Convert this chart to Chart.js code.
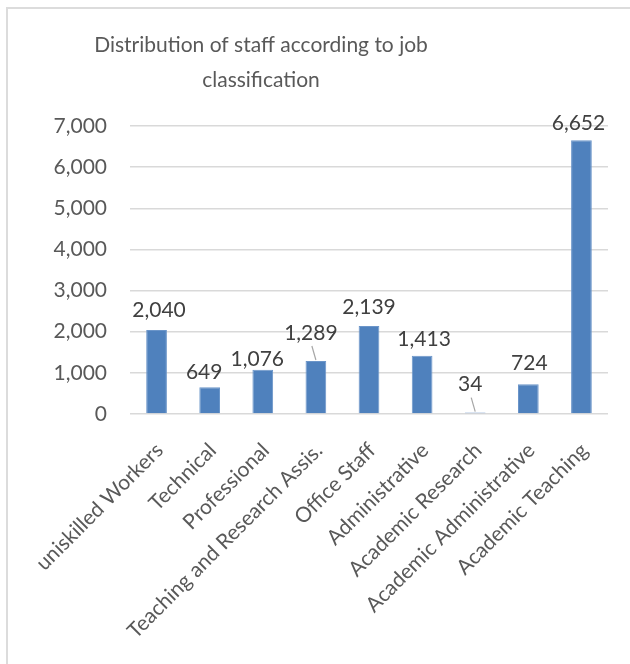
<!DOCTYPE html>
<html><head><meta charset="utf-8">
<script src="https://cdn.jsdelivr.net/npm/chart.js@4/dist/chart.umd.min.js"></script>
<style>
html,body{margin:0;padding:0;background:#fff;overflow:hidden;}
#wrap{position:relative;width:630px;height:664px;overflow:hidden;}
#frame{position:absolute;left:6px;top:7px;width:700px;height:700px;border:2px solid #dcdcdc;box-sizing:border-box;}
canvas{position:absolute;left:0;top:0;}
</style></head><body>
<div id="wrap"><div id="frame"></div><canvas id="c" width="630" height="664"></canvas></div>
<script>
const categories = ['uniskilled Workers','Technical','Professional','Teaching and Research Assis.','Office Staff','Administrative','Academic Research','Academic Administrative','Academic Teaching'];
const staffCounts = [2040, 649, 1076, 1289, 2139, 1413, 34, 724, 6652];
const yTickValues = [0, 1000, 2000, 3000, 4000, 5000, 6000, 7000];
const titleLines = ['Distribution of staff according to job', 'classification'];

const FONT = 'Lato, "Open Sans", sans-serif';
const fmt = v => v.toLocaleString('en-US');

const titlePlugin = {
  id: 'excelTitle',
  afterDraw(chart, args, opts) {
    const ctx = chart.ctx;
    ctx.save();
    ctx.font = opts.size + 'px ' + FONT;
    ctx.fillStyle = opts.color;
    ctx.textAlign = 'center';
    ctx.textBaseline = 'middle';
    opts.lines.forEach((t, i) => ctx.fillText(t, opts.x, opts.y + i * opts.lineHeight));
    ctx.restore();
  }
};

const labelPlugin = {
  id: 'barLabels',
  afterDatasetsDraw(chart, args, opts) {
    const ctx = chart.ctx;
    const meta = chart.getDatasetMeta(0);
    const data = chart.data.datasets[0].data;
    ctx.save();
    ctx.font = opts.size + 'px ' + FONT;
    ctx.fillStyle = opts.color;
    ctx.textAlign = 'center';
    ctx.textBaseline = 'middle';
    meta.data.forEach((bar, i) => {
      const n = opts.nudge[i] || [0, 18];
      const lx = bar.x + n[0], ly = bar.y - n[1];
      ctx.fillText(fmt(data[i]), lx, ly);
      if (opts.leaders.includes(i)) {
        ctx.strokeStyle = '#a6a6a6';
        ctx.lineWidth = 1.2;
        ctx.beginPath();
        ctx.moveTo(lx + 1, ly + 13);
        ctx.lineTo(bar.x, bar.y - 1);
        ctx.stroke();
      }
    });
    ctx.restore();
  }
};

new Chart(document.getElementById('c'), {
  type: 'bar',
  data: {
    labels: categories,
    datasets: [{
      data: staffCounts,
      backgroundColor: '#4f81bd',
      borderColor: '#6b95c9',
      borderWidth: 1,
      categoryPercentage: 1,
      barPercentage: 0.39
    }]
  },
  options: {
    responsive: false,
    animation: false,
    devicePixelRatio: 1,
    layout: { padding: { top: 126, right: 22, left: 0, bottom: 0 } },
    plugins: {
      legend: { display: false },
      tooltip: { enabled: false },
      title: { display: false },
      excelTitle: { lines: titleLines, x: 261, y: 45, lineHeight: 35, size: 21, color: '#595959' },
      barLabels: {
        size: 21, color: '#404040', leaders: [3, 6],
        nudge: [[2.5, 19.5], [-5.5, 15], [-5.5, 10], [-5, 28], [0, 18.5], [2, 16.5], [-5, 28], [1, 21], [-3, 17]]
      }
    },
    scales: {
      x: {
        grid: { display: false },
        border: { display: false },
        ticks: { autoSkip: false, minRotation: 45, maxRotation: 45, font: { family: FONT, size: 21 }, color: '#595959', padding: 16, labelOffset: 3 },
        afterFit(s) { s.height = 250; }
      },
      y: {
        min: 0, max: 7000,
        afterBuildTicks(s) { s.ticks = yTickValues.map(v => ({ value: v })); },
        grid: { color: '#d9d9d9', lineWidth: 1.5, drawTicks: false },
        border: { display: false },
        ticks: { callback: v => fmt(v), font: { family: FONT, size: 21 }, color: '#595959', padding: 23 },
        afterFit(s) { s.width = 130; }
      }
    }
  },
  plugins: [titlePlugin, labelPlugin]
});
</script>
</body></html>
